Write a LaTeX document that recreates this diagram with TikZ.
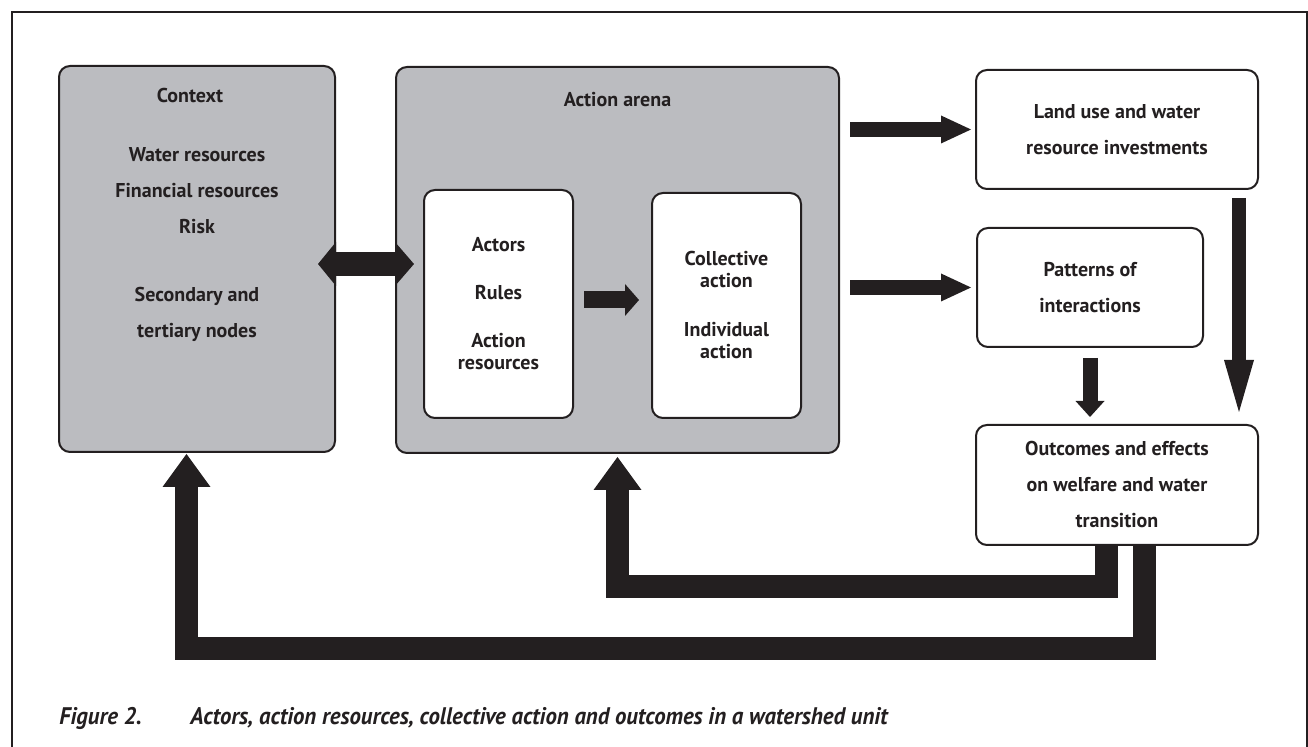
\documentclass[tikz,border=0pt]{standalone}
\usepackage{fontspec}
\setsansfont{PT Sans}
\newfontfamily\capfont[FakeStretch=0.95]{PT Sans}
\usetikzlibrary{arrows.meta,positioning}

\definecolor{ink}{HTML}{231F20}
\definecolor{panel}{HTML}{BBBCC0}

\newcommand\boxfont{\sffamily\bfseries\fontsize{10}{18}\selectfont}
\newcommand\tightfont{\sffamily\bfseries\fontsize{10}{11}\selectfont}

\begin{document}
\begin{tikzpicture}[
  x=0.5pt, y=-0.5pt,
  box/.style={draw=ink, line width=1pt, rounded corners=5.5pt, fill=white,
    inner sep=0pt, align=center, font=\boxfont, text=ink},
  panelbox/.style={box, fill=panel},
  inner/.style={box, font=\tightfont},
  title/.style={inner sep=0pt, align=center, font=\boxfont, text=ink},
  fat/.style={draw=ink, line width=7.5pt,
    -{Triangle[width=14pt,length=15pt,line width=0pt]}},
  loop/.style={draw=ink, line width=11.5pt, line join=miter,
    -{Triangle[width=24pt,length=16.5pt,line width=0pt]}},
  node distance=0pt
]
\useasboundingbox (0,0) rectangle (1308,747);

% open frame round the figure
\draw[ink, line width=1pt] (12,760) -- (12,12) -- (1306.5,12) -- (1306.5,760);

% the two grey panels
\node[panelbox, minimum width=138pt, minimum height=193pt] (ctx) at (197,259) {};
\node[panelbox, minimum width=221.5pt, minimum height=193pt] (arena) at (617.5,260) {};

\node[title, below=11.5pt of ctx.north, xshift=-3.5pt] (ctxtitle) {Context};
\node[title, below=41pt of ctx.north] (ctxlist)
  {Water resources\\Financial resources\\Risk\\[16pt]Secondary and\\tertiary nodes};
\node[title, below=13pt of arena.north] (arenatitle) {Action arena};

% inside the action arena
\node[inner, minimum width=74.5pt, minimum height=114pt] (act) at (498.5,304)
  {Actors\\[13pt]Rules\\[13pt]Action\\resources};
\node[inner, minimum width=74.5pt, minimum height=112.5pt] (col) at (726.5,305.5)
  {Collective\\action\\[13.5pt]Individual\\action};

% right hand column
\node[box, minimum width=141pt, minimum height=59.5pt] (land) at (1117,129.5)
  {Land use and water\\resource investments};
\node[box, minimum width=113pt, minimum height=59.5pt] (pat) at (1090,287.5)
  {Patterns of\\interactions};
\node[box, minimum width=141pt, minimum height=60pt] (out) at (1117,485)
  {Outcomes and effects\\on welfare and water\\transition};

% context <-> arena
\coordinate (link) at ([yshift=-2.5pt]ctx.east);
\draw[draw=ink, line width=12pt,
  {Triangle[width=22pt,length=9pt,line width=0pt]}-{Triangle[width=22pt,length=9.5pt,line width=0pt]},
  shorten <=-9pt, shorten >=-9.5pt] (link) -- (link -| arena.west);

% actors -> actions
\coordinate (mid) at ([yshift=2pt]act.east);
\draw[draw=ink, line width=8.5pt,
  -{Triangle[width=16pt,length=7pt,line width=0pt]},
  shorten <=5pt, shorten >=6pt] (mid) -- (mid -| col.west);

% arena -> results
\draw[fat, shorten <=5pt, shorten >=2pt] (arena.east |- land) -- (land.west);
\draw[fat, shorten <=5pt, shorten >=2.5pt] (arena.east |- pat) -- (pat.west);

% down into the outcomes
\draw[draw=ink, line width=7.5pt,
  -{Triangle[width=14.5pt,length=8pt,line width=0pt]},
  shorten <=5pt, shorten >=3.5pt] (pat.south) -- (pat.south |- out.north);
\coordinate (drop) at ([xshift=-10pt]land.south east);
\draw[draw=ink, line width=7pt,
  -{Triangle[width=15pt,length=26pt,line width=0pt]},
  shorten <=4pt, shorten >=6pt] (drop) -- (drop |- out.north);

% feedback loops
\draw[loop, shorten >=1.5pt] ([xshift=-5.25pt]out.south) -- ++(0,40.5) -| (arena.south);
\draw[loop, shorten >=0.5pt] ([xshift=13.5pt]out.south) -- ++(0,102.5) -| ([xshift=-5.25pt]ctx.south);

% caption
\node[inner sep=0pt, anchor=base west, font=\capfont\bfseries\itshape\fontsize{12}{14}\selectfont, text=ink]
  (fignum) at (59,725) {Figure 2.};
\node[inner sep=0pt, anchor=base west, font=\capfont\bfseries\itshape\fontsize{12}{14}\selectfont, text=ink]
  (figtext) at (190,725) {Actors, action resources, collective action and outcomes in a watershed unit};
\end{tikzpicture}
\end{document}
